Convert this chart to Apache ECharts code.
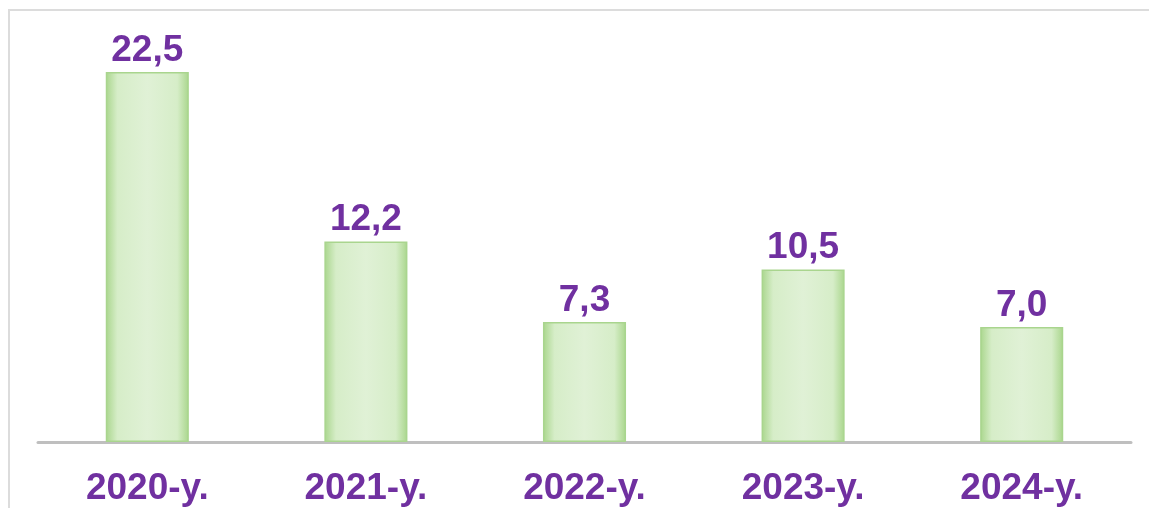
<!DOCTYPE html>
<html>
<head>
<meta charset="utf-8">
<script src="https://cdn.jsdelivr.net/npm/echarts@6/dist/echarts.min.js"></script>
<style>
  html, body { margin: 0; padding: 0; background: #fff; }
  #main { width: 1149px; height: 508px; }
</style>
</head>
<body>
<div id="main"></div>
<script>
var categories = ['2020-y.', '2021-y.', '2022-y.', '2023-y.', '2024-y.'];
var values = [22.5, 12.2, 7.3, 10.5, 7.0];

var chartDom = document.getElementById('main');
var myChart = echarts.init(chartDom);
var option;

var barFill = new echarts.graphic.LinearGradient(0, 0, 1, 0, [
  { offset: 0, color: '#a9d68c' },
  { offset: 0.14, color: '#d6edc8' },
  { offset: 0.5, color: '#e0f1d6' },
  { offset: 0.86, color: '#d6edc8' },
  { offset: 1, color: '#a9d68c' }
]);

option = {
  animation: false,
  graphic: [
    {
      type: 'rect',
      shape: { x: 9, y: 10, width: 1200, height: 600 },
      style: { fill: 'none', stroke: '#dcdcdc', lineWidth: 2 },
      z: -1
    }
  ],
  grid: {
    left: 38,
    right: 18,
    top: 31,
    bottom: 66
  },
  xAxis: {
    type: 'category',
    data: categories,
    axisLine: { lineStyle: { color: '#bfbfbf', width: 3 } },
    axisTick: { show: false },
    axisLabel: {
      color: '#7030a0',
      fontFamily: 'Liberation Sans, Arial, sans-serif',
      fontWeight: 'bold',
      fontSize: 37,
      margin: 28
    }
  },
  yAxis: {
    type: 'value',
    min: 0,
    max: 25,
    show: false,
    splitLine: { show: false }
  },
  series: [
    {
      type: 'bar',
      data: values,
      barWidth: '38%',
      itemStyle: {
        color: barFill,
        borderColor: '#a9d58e',
        borderWidth: 1.5
      },
      label: {
        show: true,
        position: 'top',
        distance: 3,
        color: '#7030a0',
        fontFamily: 'Liberation Sans, Arial, sans-serif',
        fontWeight: 'bold',
        fontSize: 37,
        formatter: function (p) {
          return p.value.toFixed(1).replace('.', ',');
        }
      }
    }
  ]
};
myChart.setOption(option);
</script>
</body>
</html>
